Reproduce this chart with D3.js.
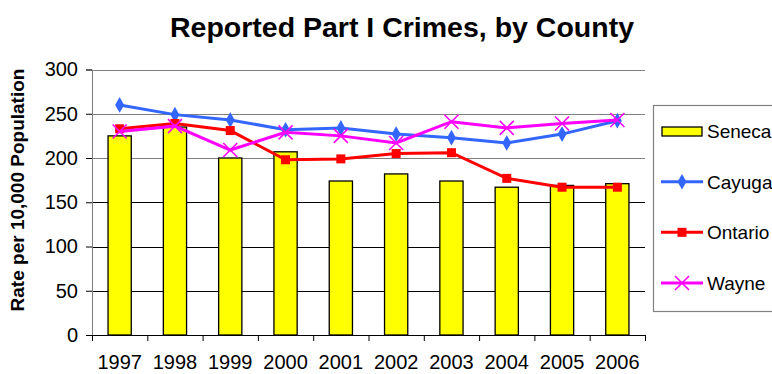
<!DOCTYPE html>
<html>
<head>
<meta charset="utf-8">
<script src="https://cdn.jsdelivr.net/npm/d3@7"></script>
<style>
  body { margin: 0; background: #fff; }
  text { font-family: Arial, "Liberation Sans", sans-serif; }
</style>
</head>
<body>
<svg id="chart" width="772" height="374"></svg>
<script>
const years = ['1997', '1998', '1999', '2000', '2001', '2002', '2003', '2004', '2005', '2006']
const seneca = [225, 235, 200, 207, 174, 182, 174, 167, 169, 171]
const cayuga = [260, 249, 243, 232, 234, 227, 223, 217, 227, 242]
const ontario = [233, 239, 231, 198, 199, 205, 206, 177, 167, 167]
const wayne = [230, 236, 209, 229, 225, 217, 241, 234, 239, 243]
const yTicks = [0, 50, 100, 150, 200, 250, 300]

const svg = d3.select('#chart')
const plotLeft = 92, plotRight = 645, plotTop = 69.5, plotBottom = 335

const x = d3.scaleBand()
  .domain(years)
  .range([plotLeft, plotRight])
const y = d3.scaleLinear()
  .domain([0, 300])
  .range([plotBottom, plotTop])

// title
svg.append('text')
  .attr('x', 402)
  .attr('y', 37)
  .attr('text-anchor', 'middle')
  .attr('font-size', '28.5px')
  .attr('font-weight', 'bold')
  .text('Reported Part I Crimes, by County')

// gridlines
svg.append('g').selectAll('line')
  .data(yTicks.filter(d => d > 0))
  .enter()
  .append('line')
  .attr('x1', plotLeft)
  .attr('x2', plotRight)
  .attr('y1', d => Math.round(y(d)) + 0.5)
  .attr('y2', d => Math.round(y(d)) + 0.5)
  .attr('stroke', d => d >= 200 ? '#808080' : '#000')
  .attr('stroke-width', 1)

// bars
const barW = x.bandwidth() * 0.42
svg.append('g').selectAll('rect')
  .data(seneca)
  .enter()
  .append('rect')
  .attr('x', (d, i) => x(years[i]) + (x.bandwidth() - barW) / 2)
  .attr('y', d => y(d))
  .attr('width', barW)
  .attr('height', d => plotBottom - y(d))
  .attr('fill', '#ffff00')
  .attr('stroke', '#000')
  .attr('stroke-width', 1.3)

// axes
const yAxis = d3.axisLeft(y).tickValues(yTicks).tickSize(6).tickPadding(8)
const yG = svg.append('g')
  .attr('transform', `translate(${plotLeft},0)`)
  .call(yAxis)
yG.select('.domain').attr('stroke', '#808080')
yG.selectAll('.tick line').attr('stroke', '#000')
yG.selectAll('.tick text')
  .attr('font-size', '20px')
  .attr('font-family', 'Arial, "Liberation Sans", sans-serif')
  .attr('fill', '#000')

const xAxis = d3.axisBottom(d3.scalePoint().domain(d3.range(11)).range([plotLeft, plotRight]))
  .tickSize(6)
  .tickFormat('')
const xG = svg.append('g')
  .attr('transform', `translate(0,${plotBottom})`)
  .call(xAxis)
xG.select('.domain').attr('d', `M${plotLeft},0.5H${plotRight}`).attr('stroke', '#000')
xG.selectAll('.tick line').attr('stroke', '#000')

svg.append('g').selectAll('text')
  .data(years)
  .enter()
  .append('text')
  .attr('x', d => x(d) + x.bandwidth() / 2)
  .attr('y', 369)
  .attr('text-anchor', 'middle')
  .attr('font-size', '20px')
  .text(d => d)

// y label
svg.append('text')
  .attr('transform', 'translate(24,190) rotate(-90)')
  .attr('text-anchor', 'middle')
  .attr('font-size', '19px')
  .attr('font-weight', 'bold')
  .text('Rate per 10,000 Population')

// lines
const cx = (d, i) => x(years[i]) + x.bandwidth() / 2
const line = d3.line().x(cx).y(d => y(d))

const series = [
  { name: 'Cayuga', values: cayuga, color: '#3366ff', marker: 'diamond' },
  { name: 'Ontario', values: ontario, color: '#ff0000', marker: 'square' },
  { name: 'Wayne', values: wayne, color: '#ff00ff', marker: 'x' }
]

function drawMarker(g, type, color, px, py) {
  if (type == 'diamond') {
    g.append('path')
      .attr('d', d3.symbol(d3.symbolDiamond, 70)())
      .attr('transform', `translate(${px},${py})`)
      .attr('fill', color)
  } else if (type == 'square') {
    g.append('rect')
      .attr('x', px - 4.5)
      .attr('y', py - 4.5)
      .attr('width', 9)
      .attr('height', 9)
      .attr('fill', color)
  } else {
    g.append('path')
      .attr('d', `M${px - 7},${py - 7}L${px + 7},${py + 7}M${px - 7},${py + 7}L${px + 7},${py - 7}`)
      .attr('stroke', color)
      .attr('stroke-width', 1.6)
  }
}

series.forEach(s => {
  svg.append('path')
    .attr('d', line(s.values))
    .attr('fill', 'none')
    .attr('stroke', s.color)
    .attr('stroke-width', 3)
  const mg = svg.append('g')
  s.values.forEach((v, i) => drawMarker(mg, s.marker, s.color, cx(v, i), y(v)))
})

// legend
const lg = svg.append('g')
lg.append('rect')
  .attr('x', 653.5)
  .attr('y', 105.5)
  .attr('width', 130)
  .attr('height', 206)
  .attr('fill', '#fff')
  .attr('stroke', '#808080')
  .attr('stroke-width', 1.2)

const legendY = d3.scalePoint()
  .domain(['Seneca', 'Cayuga', 'Ontario', 'Wayne'])
  .range([131, 283])

lg.append('rect')
  .attr('x', 662)
  .attr('y', legendY('Seneca') - 4)
  .attr('width', 40)
  .attr('height', 9)
  .attr('fill', '#ffff00')
  .attr('stroke', '#000')
  .attr('stroke-width', 1.3)

series.forEach(s => {
  const ly = legendY(s.name)
  lg.append('line')
    .attr('x1', 661)
    .attr('x2', 703)
    .attr('y1', ly)
    .attr('y2', ly)
    .attr('stroke', s.color)
    .attr('stroke-width', 3)
  drawMarker(lg, s.marker, s.color, 682, ly)
})

lg.selectAll('.ltext')
  .data(legendY.domain())
  .enter()
  .append('text')
  .attr('x', 707)
  .attr('y', d => legendY(d) + 7)
  .attr('font-size', '19px')
  .text(d => d)
</script>
</body>
</html>
